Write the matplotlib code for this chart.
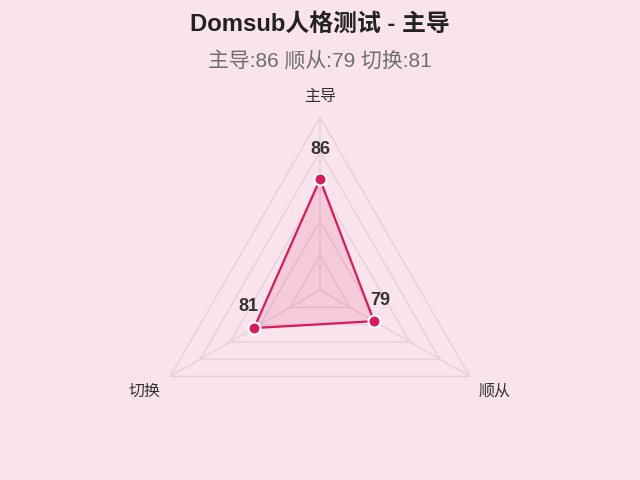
import numpy as np
import matplotlib
matplotlib.use("Agg")
import matplotlib.pyplot as plt

plt.rcParams['font.family'] = ['Liberation Sans', 'Noto Sans CJK SC', 'DejaVu Sans']

# data
categories = ['主导', '顺从', '切换']
scores = [86, 79, 81]
r_min, r_max = 70, 95
grid_levels = [75, 80, 85, 90, 95]

title = 'Domsub人格测试 - 主导'
subtitle = '主导:86 顺从:79 切换:81'

bg = '#fae4ec'
line_col = '#d81b60'
grid_col = '#e6d2d9'

fig = plt.figure(figsize=(6.4, 4.8), dpi=100, facecolor=bg)
ax = fig.add_axes([0.2297, 0.0354, 0.5406, 0.7208], projection='polar')
ax.set_facecolor('none')
ax.set_theta_zero_location('N')
ax.set_theta_direction(-1)
ax.set_ylim(r_min, r_max)
ax.grid(False)
ax.spines['polar'].set_visible(False)
ax.set_xticks([])
ax.set_yticks([])

n = len(categories)
angles = np.linspace(0, 2 * np.pi, n, endpoint=False)
closed = np.append(angles, angles[0])

# polygon grid
for lvl in grid_levels:
    ax.plot(closed, [lvl] * (n + 1), color=grid_col, lw=1.1, zorder=1)
for a in angles:
    ax.plot([a, a], [r_min, r_max], color=grid_col, lw=1.1, zorder=1)

# data polygon
vals = np.append(scores, scores[0])
ax.fill(closed, vals, color=line_col, alpha=0.13, zorder=2, lw=0)
ax.plot(closed, vals, color=line_col, lw=1.6, zorder=3)
ax.scatter(angles, scores, s=75, color=line_col, edgecolors='white',
           linewidths=1.5, zorder=4, clip_on=False)

# value labels
offsets = [(0, 30), (6, 21), (-6, 22)]
for a, v, off in zip(angles, scores, offsets):
    ax.annotate(str(v), (a, v), xytext=off, textcoords='offset pixels',
                ha='center', va='center', fontsize=13, fontweight='bold',
                color='#333333', annotation_clip=False, zorder=5)

# axis labels
label_r = [98, 99.2, 99.2]
for a, lab, rr in zip(angles, categories, label_r):
    ax.text(a, rr, lab, ha='center', va='center', fontsize=11.5,
            color='#333333', clip_on=False)

fig.text(0.5, 1 - 24 / 480, title, ha='center', va='center',
         fontsize=17.2, fontweight='bold', color='#222222')
fig.text(0.5, 1 - 61 / 480, subtitle, ha='center', va='center',
         fontsize=15, color='#6e6e6e')

fig.savefig('out.png', dpi=100, facecolor=bg)
